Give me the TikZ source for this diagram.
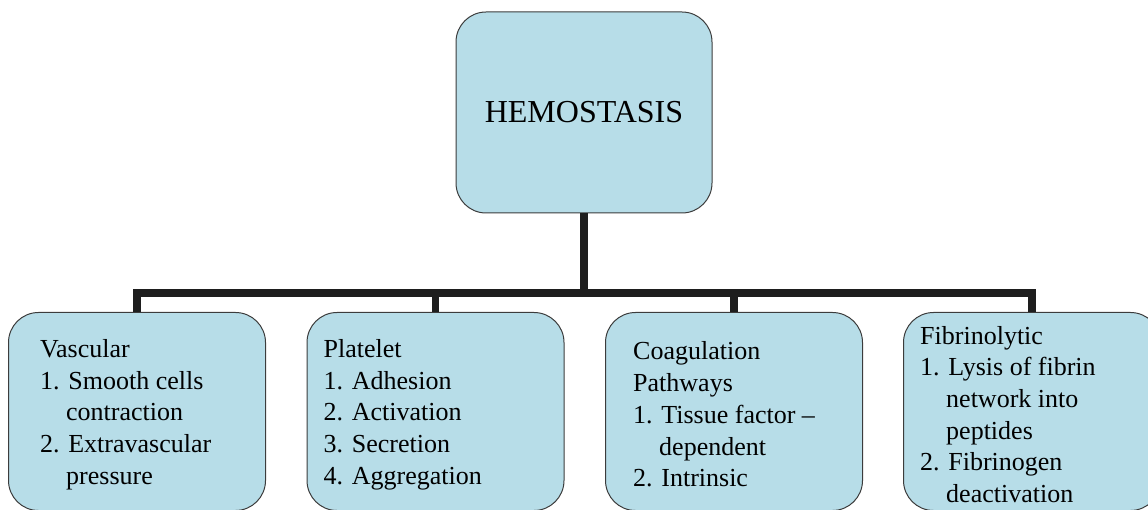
\documentclass[tikz,border=0pt]{standalone}
\usepackage{fontspec}
\setmainfont{Liberation Serif}
\definecolor{boxblue}{HTML}{B7DDE8}
\definecolor{edgegray}{HTML}{3C3C3C}
\definecolor{conncol}{HTML}{1E1E1E}
\newcommand{\ind}{\hspace*{1em}}
\begin{document}
\begin{tikzpicture}[x=1pt,y=-1pt,
  hbox/.style={draw=edgegray, line width=1pt, fill=boxblue, rounded corners=30pt,
    minimum width=256pt, minimum height=201pt, inner sep=0pt},
  lbox/.style={hbox, minimum width=257pt, minimum height=198pt},
  boxtext/.style={font=\fontsize{26}{31.7}\selectfont, align=left, inner sep=0pt, anchor=west},
  connector/.style={draw=conncol, line width=7.5pt, line join=miter, line cap=butt}]
\useasboundingbox (0,0) rectangle (1148,510);
\clip (0,0) rectangle (1148,510);
\node[hbox, font=\fontsize{32}{38}\selectfont] (top) at (584,112.5) {HEMOSTASIS};
\node[lbox] (v) at (137,411.5) {};
\node[lbox] (p) at (435.5,411.5) {};
\node[lbox] (c) at (734,411.5) {};
\node[lbox] (f) at (1032,411.5) {};
\coordinate (bar) at (584,293);
\node[boxtext] (vt) at ([xshift=32pt,yshift=-3pt]v.west) {Vascular\\1. Smooth cells\\\ind contraction\\2. Extravascular\\\ind pressure};
\node[boxtext] (pt) at ([xshift=17pt,yshift=-3pt]p.west) {Platelet\\1. Adhesion\\2. Activation\\3. Secretion\\4. Aggregation};
\node[boxtext] (ct) at ([xshift=28pt,yshift=-3pt]c.west) {Coagulation\\Pathways\\1. Tissue factor --\\\ind dependent\\2. Intrinsic};
\node[boxtext] (ft) at ([xshift=17pt,yshift=-3pt]f.west) {Fibrinolytic\\1. Lysis of fibrin\\\ind network into\\\ind peptides\\2. Fibrinogen\\\ind deactivation};
\draw[connector] (top.south) -- (bar);
\draw[connector] (v.north) -- (v.north |- bar) -- (f.north |- bar) -- (f.north);
\draw[connector] (p.north) -- (p.north |- bar);
\draw[connector] (c.north) -- (c.north |- bar);
\end{tikzpicture}
\end{document}
